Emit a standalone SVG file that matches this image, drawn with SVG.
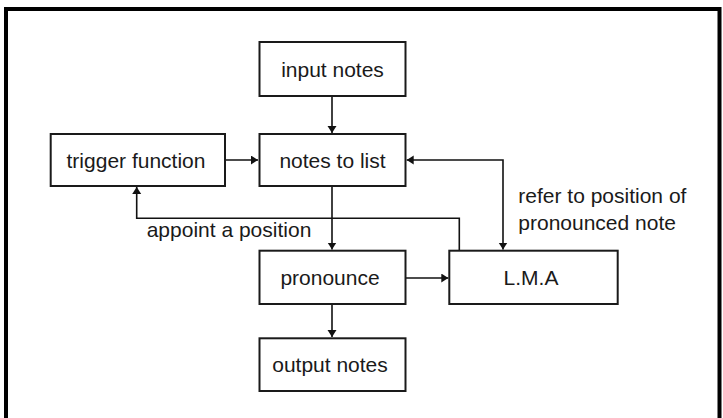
<svg xmlns="http://www.w3.org/2000/svg" width="723" height="418" viewBox="0 0 723 418">
  <style>
    .box { fill: #ffffff; stroke: #1a1a1a; stroke-width: 2; }
    .lbl { font-family: "Liberation Sans", Arial, sans-serif; font-size: 21px; fill: #1a1a1a; }
    .mid { text-anchor: middle; }
    .conn { fill: none; stroke: #111111; stroke-width: 1.6; }
  </style>
  <defs>
    <marker id="arr" markerUnits="userSpaceOnUse" markerWidth="10" markerHeight="10" refX="7" refY="4.5" orient="auto-start-reverse">
      <path d="M0,0 L7,4.5 L0,9 z" fill="#111111"/>
    </marker>
  </defs>
  <rect width="723" height="418" fill="#ffffff"/>
  <!-- outer frame -->
  <path d="M6,418 V9 H719.5 V418" fill="none" stroke="#000000" stroke-width="4"/>

  <g id="connectors">
    <path class="conn" d="M332,96 V133" marker-end="url(#arr)"/>
    <path class="conn" d="M225,160 H258" marker-end="url(#arr)"/>
    <path class="conn" d="M503,249.5 V160 H406.7" marker-start="url(#arr)" marker-end="url(#arr)"/>
    <path class="conn" d="M332,186 V249.5" marker-end="url(#arr)"/>
    <path class="conn" d="M459.3,250.7 V218.3 H136.7 V187" marker-end="url(#arr)"/>
    <path class="conn" d="M405.7,278 H448.3" marker-end="url(#arr)"/>
    <path class="conn" d="M332,304 V337" marker-end="url(#arr)"/>
  </g>

  <g id="input-notes">
    <rect class="box" x="259.5" y="42" width="146" height="54"/>
    <text class="lbl mid" x="332.5" y="76.5">input notes</text>
  </g>
  <g id="notes-to-list">
    <rect class="box" x="259.5" y="134" width="146" height="52"/>
    <text class="lbl mid" x="332.5" y="167.5">notes to list</text>
  </g>
  <g id="trigger-function">
    <rect class="box" x="50.7" y="134" width="174.3" height="52"/>
    <text class="lbl mid" x="136" y="167.5">trigger function</text>
  </g>
  <g id="pronounce">
    <rect class="box" x="259.5" y="250.7" width="146" height="53.3"/>
    <text class="lbl mid" x="330" y="285">pronounce</text>
  </g>
  <g id="lma">
    <rect class="box" x="449.3" y="250.7" width="168.4" height="53.3"/>
    <text class="lbl mid" x="531" y="285">L.M.A</text>
  </g>
  <g id="output-notes">
    <rect class="box" x="259.5" y="338.3" width="146" height="52.7"/>
    <text class="lbl mid" x="330" y="372">output notes</text>
  </g>

  <g id="labels">
    <text class="lbl" x="146.7" y="237">appoint a position</text>
    <text class="lbl" x="518.3" y="202.7">refer to position of</text>
    <text class="lbl" x="518.3" y="230">pronounced note</text>
  </g>
</svg>
